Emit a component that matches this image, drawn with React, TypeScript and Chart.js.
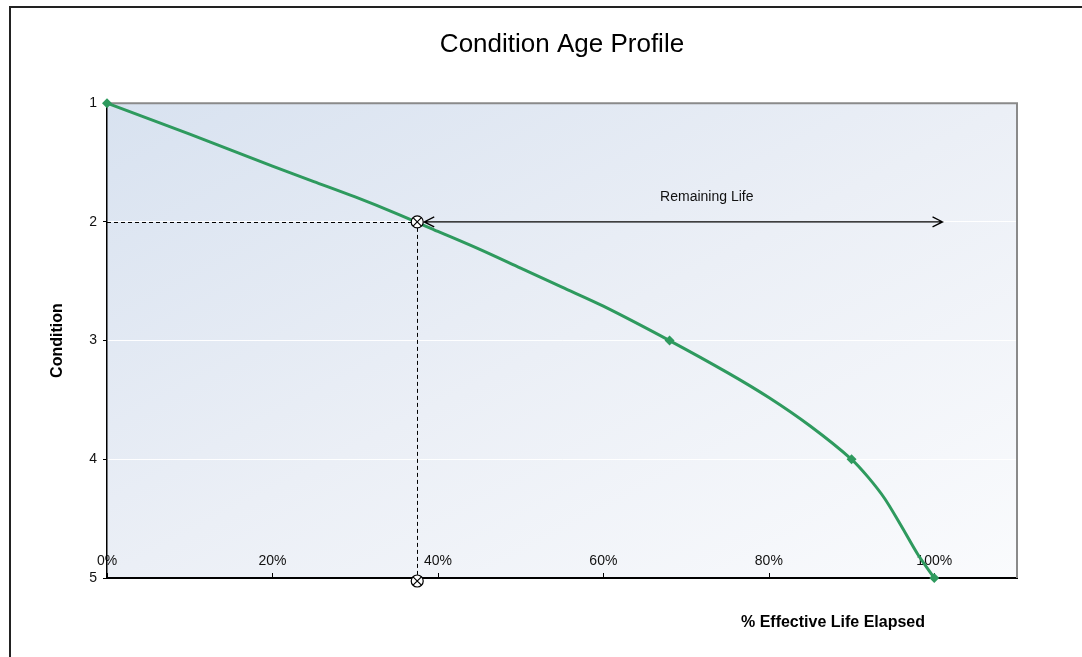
import React, { useEffect, useRef } from "react";
import { Chart, registerables } from "chart.js";

Chart.register(...registerables);

// ---- Data ----
const ageElapsed = [0, 5, 10, 15, 20, 25, 30, 35, 40, 45, 50, 55, 60, 68, 75, 80, 85, 90, 92, 94, 96, 98, 100];
const conditionValues = [1.0, 1.13, 1.26, 1.395, 1.53, 1.66, 1.79, 1.93, 2.08, 2.23, 2.39, 2.55, 2.71, 3.0, 3.27, 3.48, 3.72, 4.0, 4.15, 4.33, 4.56, 4.8, 5.0];
const markerAges = [0, 68, 90, 100];
const xMin = 0;
const xMax = 110;
const xStep = 20;
const yMin = 1;
const yMax = 5;

const currentAge = 37.5;
const currentCondition = 2;
const remainingLifeEnd = 101;
const remainingLabel = "Remaining Life";
const remainingLabelAge = 72.5;
const remainingLabelCondition = 1.79;

const chartTitle = "Condition Age Profile";
const yAxisTitle = "Condition";
const xAxisTitle = "% Effective Life Elapsed";

const GREEN = "#2e9a5e";
const FONT = "'Liberation Sans', Arial, Helvetica, sans-serif";

const backgroundPlugin = {
  id: "plotBackground",
  beforeDraw(chart: any) {
    const { ctx, chartArea: a } = chart;
    ctx.save();
    ctx.translate(a.left, a.top);
    ctx.scale(a.right - a.left, a.bottom - a.top);
    const g = ctx.createLinearGradient(0, 0, 1, 1);
    g.addColorStop(0, "#d8e2f0");
    g.addColorStop(0.5, "#ebeff6");
    g.addColorStop(1, "#fafbfd");
    ctx.fillStyle = g;
    ctx.fillRect(0, 0, 1, 1);
    ctx.restore();
  },
  beforeDatasetsDraw(chart: any) {
    const { ctx, chartArea: a } = chart;
    const xs = chart.scales.x;
    ctx.save();
    // top / right frame of plot area
    ctx.strokeStyle = "#8a8a8a";
    ctx.lineWidth = 2;
    ctx.beginPath();
    ctx.moveTo(a.left, a.top);
    ctx.lineTo(a.right, a.top);
    ctx.lineTo(a.right, a.bottom);
    ctx.stroke();
    // inner x tick marks
    ctx.strokeStyle = "#000";
    ctx.lineWidth = 1;
    for (const t of xs.ticks) {
      const px = Math.round(xs.getPixelForValue(t.value)) + 0.5;
      ctx.beginPath();
      ctx.moveTo(px, a.bottom);
      ctx.lineTo(px, a.bottom - 5);
      ctx.stroke();
    }
    ctx.restore();
  },
};

function drawCrossCircle(ctx: CanvasRenderingContext2D, x: number, y: number, r: number) {
  ctx.save();
  ctx.setLineDash([]);
  ctx.fillStyle = "#fff";
  ctx.strokeStyle = "#000";
  ctx.lineWidth = 1.2;
  ctx.beginPath();
  ctx.arc(x, y, r, 0, Math.PI * 2);
  ctx.fill();
  ctx.stroke();
  const d = r * 0.7;
  ctx.beginPath();
  ctx.moveTo(x - d, y - d);
  ctx.lineTo(x + d, y + d);
  ctx.moveTo(x + d, y - d);
  ctx.lineTo(x - d, y + d);
  ctx.stroke();
  ctx.restore();
}

const annotationPlugin = {
  id: "remainingLife",
  afterDatasetsDraw(chart: any) {
    const { ctx, chartArea: a } = chart;
    const xs = chart.scales.x;
    const ys = chart.scales.y;
    const cx = xs.getPixelForValue(currentAge);
    const cy = ys.getPixelForValue(currentCondition);
    const by = ys.getPixelForValue(yMax) + 3;
    const r = 6;
    ctx.save();
    ctx.strokeStyle = "#000";
    ctx.lineWidth = 1;
    ctx.setLineDash([4, 3]);
    ctx.beginPath();
    ctx.moveTo(a.left, Math.round(cy) + 0.5);
    ctx.lineTo(cx - r, Math.round(cy) + 0.5);
    ctx.moveTo(Math.round(cx) + 0.5, cy + r);
    ctx.lineTo(Math.round(cx) + 0.5, by - r);
    ctx.stroke();
    ctx.setLineDash([]);

    // double arrow
    const x1 = cx + r + 1;
    const x2 = xs.getPixelForValue(remainingLifeEnd);
    ctx.lineWidth = 1.3;
    ctx.beginPath();
    ctx.moveTo(x1, cy);
    ctx.lineTo(x2, cy);
    ctx.moveTo(x1 + 10, cy - 5);
    ctx.lineTo(x1, cy);
    ctx.lineTo(x1 + 10, cy + 5);
    ctx.moveTo(x2 - 10, cy - 5);
    ctx.lineTo(x2, cy);
    ctx.lineTo(x2 - 10, cy + 5);
    ctx.stroke();

    drawCrossCircle(ctx, cx, cy, r);
    drawCrossCircle(ctx, cx, by, r);

    ctx.fillStyle = "#111";
    ctx.font = `14px ${FONT}`;
    ctx.textAlign = "center";
    ctx.textBaseline = "middle";
    ctx.fillText(remainingLabel, xs.getPixelForValue(remainingLabelAge), ys.getPixelForValue(remainingLabelCondition));

    // x axis title
    ctx.fillStyle = "#000";
    ctx.font = `bold 16px ${FONT}`;
    ctx.fillText(xAxisTitle, a.right - 184, a.bottom + 45);
    ctx.restore();
  },
};

export default function App() {
  const ref = useRef<HTMLCanvasElement>(null);

  useEffect(() => {
    if (!ref.current) return;
    const points = ageElapsed.map((x, i) => ({ x, y: conditionValues[i] }));
    const chart = new Chart(ref.current, {
      type: "line",
      data: {
        datasets: [
          {
            data: points,
            borderColor: GREEN,
            backgroundColor: GREEN,
            borderWidth: 3,
            pointStyle: "rectRot",
            pointRadius: (c: any) => (markerAges.includes(ageElapsed[c.dataIndex]) ? 5 : 0),
            pointBorderWidth: 0,
            pointBackgroundColor: GREEN,
            tension: 0.3,
            clip: false as any,
            fill: false,
          },
        ],
      },
      options: {
        animation: false,
        responsive: false,
        devicePixelRatio: 1,
        layout: { padding: { left: 40, right: 65, top: 0, bottom: 0 } },
        font: { family: FONT },
        plugins: {
          legend: { display: false },
          tooltip: { enabled: false },
          title: {
            display: true,
            text: chartTitle,
            fullSize: false,
            color: "#000",
            font: { family: FONT, size: 26, weight: "normal" },
            padding: { top: 29.5, bottom: 42.5 },
          },
        },
        scales: {
          x: {
            type: "linear",
            min: xMin,
            max: xMax,
            ticks: {
              stepSize: xStep,
              includeBounds: false,
              maxRotation: 0,
              autoSkip: false,
              mirror: true,
              padding: 8.6,
              color: "#111",
              font: { family: FONT, size: 14 },
              callback: (v: any) => `${v}%`,
            },
            grid: { drawOnChartArea: false, drawTicks: false },
            border: { color: "#000", width: 2 },
            afterFit: (s: any) => {
              s.height = 79;
            },
          },
          y: {
            type: "linear",
            reverse: true,
            min: yMin,
            max: yMax,
            ticks: {
              stepSize: 1,
              padding: 6,
              color: "#111",
              font: { family: FONT, size: 14 },
            },
            grid: {
              color: "rgba(255,255,255,0.95)",
              lineWidth: 1,
              tickLength: 4,
              tickColor: "#000",
            },
            border: { color: "#000", width: 1.5 },
            title: {
              display: true,
              text: yAxisTitle,
              color: "#000",
              font: { family: FONT, size: 16, weight: "bold" },
              padding: { top: 8, bottom: 0 },
            },
            afterFit: (s: any) => {
              s.width = 67;
            },
          },
        },
      } as any,
      plugins: [backgroundPlugin, annotationPlugin],
    });
    return () => chart.destroy();
  }, []);

  return (
    <div style={{ position: "fixed", left: 0, top: 0, width: 1082, height: 657, overflow: "hidden", background: "#fff" }}>
      <div
        style={{
          position: "absolute",
          left: 9,
          top: 6,
          width: 2000,
          height: 2000,
          borderLeft: "2px solid #222",
          borderTop: "2px solid #222",
        }}
      />
      <canvas ref={ref} width={1082} height={657} style={{ position: "absolute", left: 0, top: 0, width: 1082, height: 657 }} />
    </div>
  );
}
